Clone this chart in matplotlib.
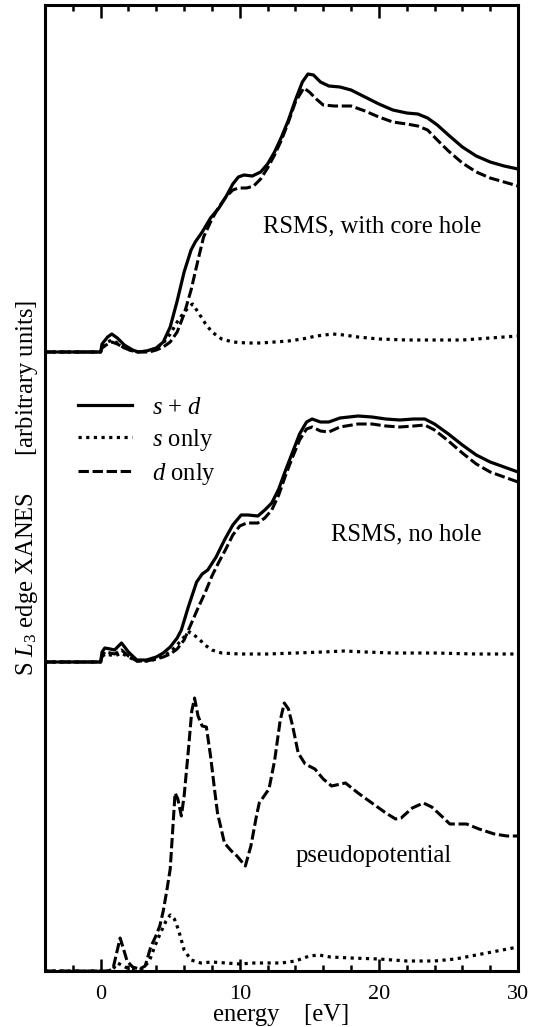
import matplotlib
matplotlib.use("Agg")
import matplotlib.pyplot as plt
from matplotlib.ticker import MultipleLocator

plt.rcParams['font.family'] = ['Liberation Serif', 'DejaVu Serif']
plt.rcParams['mathtext.fontset'] = 'custom'
plt.rcParams['mathtext.rm'] = 'Liberation Serif'
plt.rcParams['mathtext.it'] = 'Liberation Serif:italic'

# ---------------- data ----------------
# vertical offsets of the three groups (arbitrary units)
offset_core = 6.19
offset_nohole = 3.09
offset_pseudo = 0.0

# RSMS, with core hole
e_core_sd = [-4, 0.0, 0.1, 0.5, 0.8, 1.2, 1.7, 2.3, 2.7, 3.3, 4.0, 4.5, 5.0, 5.5, 6.0, 6.5, 6.8,
             7.3, 7.9, 8.5, 9.0, 9.5, 9.9, 10.3, 10.9, 11.5, 12.0, 12.5, 13.0, 13.5, 14.0, 14.5,
             14.9, 15.3, 15.8, 16.4, 17.2, 18.0, 19.0, 20.0, 21.0, 22.0, 22.8, 23.5, 24.2, 25.0,
             26.0, 27.0, 28.0, 29.0, 30.0]
core_sd = [0, 0, 0.08, 0.15, 0.18, 0.14, 0.07, 0.02, 0.0, 0.01, 0.04, 0.10, 0.25, 0.51, 0.80,
           1.02, 1.10, 1.20, 1.34, 1.44, 1.55, 1.68, 1.75, 1.77, 1.76, 1.80, 1.88, 2.00, 2.15,
           2.32, 2.52, 2.70, 2.78, 2.77, 2.70, 2.66, 2.65, 2.62, 2.55, 2.48, 2.42, 2.39, 2.38,
           2.34, 2.27, 2.17, 2.05, 1.96, 1.90, 1.86, 1.83]

e_core_d = [-4, 0.0, 0.1, 0.5, 0.8, 1.2, 1.7, 2.3, 2.7, 3.5, 4.0, 4.5, 5.0, 5.5, 6.0, 6.5, 7.0,
            7.4, 8.0, 8.5, 9.0, 9.5, 9.9, 10.5, 11.0, 11.5, 12.0, 12.5, 13.0, 13.5, 14.0, 14.6,
            15.0, 15.5, 16.0, 16.8, 18.0, 19.0, 20.0, 21.0, 22.0, 22.8, 23.5, 24.2, 25.0, 26.0,
            27.0, 28.0, 29.0, 30.0]
core_d = [0, 0, 0.04, 0.08, 0.10, 0.08, 0.04, 0.01, 0.0, 0.0, 0.02, 0.05, 0.10, 0.20, 0.38,
          0.62, 0.92, 1.15, 1.33, 1.45, 1.55, 1.62, 1.64, 1.64, 1.66, 1.73, 1.84, 1.97, 2.12,
          2.30, 2.50, 2.64, 2.60, 2.53, 2.47, 2.46, 2.46, 2.41, 2.35, 2.30, 2.28, 2.26, 2.22,
          2.12, 2.01, 1.89, 1.80, 1.74, 1.70, 1.66]

e_core_s = [-4, 0.0, 0.1, 0.5, 0.8, 1.2, 1.7, 2.3, 2.8, 3.5, 4.0, 4.5, 5.0, 5.5, 6.0, 6.6, 7.0,
            7.5, 8.0, 8.7, 9.5, 10.5, 11.5, 12.5, 13.5, 14.5, 15.5, 16.7, 17.5, 18.5, 20.0, 22.0,
            24.0, 26.0, 28.0, 30.0]
core_s = [0, 0, 0.05, 0.10, 0.12, 0.09, 0.04, 0.01, 0.0, 0.01, 0.04, 0.09, 0.18, 0.30, 0.40,
          0.48, 0.40, 0.29, 0.20, 0.13, 0.10, 0.09, 0.09, 0.10, 0.11, 0.13, 0.16, 0.18, 0.17,
          0.15, 0.13, 0.12, 0.12, 0.12, 0.14, 0.16]

# RSMS, no hole
e_nh_sd = [-4, 0.0, 0.1, 0.3, 0.7, 1.0, 1.5, 2.0, 2.6, 3.3, 4.0, 4.5, 5.0, 5.5, 5.8, 6.3, 6.9,
           7.3, 7.7, 8.3, 8.9, 9.5, 10.1, 10.6, 11.3, 11.8, 12.3, 12.8, 13.3, 13.8, 14.3, 14.8,
           15.2, 15.8, 16.4, 17.2, 18.5, 19.5, 20.5, 21.5, 22.5, 23.3, 24.0, 25.0, 26.0, 27.0,
           28.0, 29.0, 30.0]
nh_sd = [0, 0, 0.10, 0.14, 0.13, 0.12, 0.19, 0.10, 0.02, 0.02, 0.05, 0.09, 0.15, 0.24, 0.32,
         0.55, 0.80, 0.88, 0.92, 1.05, 1.22, 1.37, 1.47, 1.47, 1.46, 1.52, 1.59, 1.73, 1.92,
         2.10, 2.28, 2.40, 2.43, 2.40, 2.40, 2.44, 2.46, 2.45, 2.43, 2.42, 2.43, 2.43, 2.38,
         2.28, 2.17, 2.07, 2.00, 1.95, 1.90]

e_nh_d = [-4, 0.0, 0.1, 0.3, 0.7, 1.0, 1.5, 2.0, 2.6, 3.3, 4.0, 4.5, 5.0, 5.5, 6.0, 6.5, 7.0,
          7.5, 8.0, 8.5, 9.0, 9.5, 10.0, 10.5, 11.3, 11.8, 12.3, 12.8, 13.3, 13.8, 14.3, 14.8,
          15.2, 15.8, 16.4, 17.2, 18.5, 19.5, 20.5, 21.5, 22.5, 23.3, 24.0, 25.0, 26.0, 27.0,
          28.0, 29.0, 30.0]
nh_d = [0, 0, 0.06, 0.10, 0.09, 0.08, 0.12, 0.06, 0.01, 0.01, 0.03, 0.05, 0.08, 0.13, 0.22,
        0.38, 0.54, 0.69, 0.86, 1.00, 1.13, 1.27, 1.36, 1.39, 1.39, 1.44, 1.52, 1.67, 1.87,
        2.05, 2.22, 2.33, 2.35, 2.31, 2.30, 2.35, 2.38, 2.38, 2.36, 2.35, 2.36, 2.37, 2.32,
        2.21, 2.09, 1.98, 1.90, 1.85, 1.80]

e_nh_s = [-4, 0.0, 0.1, 0.3, 0.7, 1.0, 1.5, 2.0, 2.6, 3.5, 4.0, 4.5, 5.0, 5.5, 6.0, 6.4, 7.0,
          7.5, 8.0, 8.7, 10.0, 12.0, 14.0, 16.0, 17.5, 19.0, 21.0, 24.0, 27.0, 30.0]
nh_s = [0, 0, 0.05, 0.08, 0.07, 0.06, 0.09, 0.05, 0.01, 0.01, 0.03, 0.06, 0.10, 0.17, 0.25,
        0.30, 0.24, 0.17, 0.12, 0.09, 0.08, 0.08, 0.09, 0.10, 0.11, 0.10, 0.09, 0.09, 0.08, 0.08]

# pseudopotential
e_ps_d = [-4, 0.6, 0.9, 1.1, 1.4, 1.6, 1.9, 2.3, 2.8, 3.2, 3.6, 4.0, 4.25, 4.5, 4.75, 5.0,
          5.35, 5.55, 5.8, 6.0, 6.3, 6.55, 6.75, 7.0, 7.3, 7.6, 7.9, 8.2, 8.4, 8.9, 9.4, 9.8,
          10.4, 10.8, 11.2, 11.4, 12.1, 12.5, 12.9, 13.2, 13.5, 13.8, 14.2, 14.7, 15.4, 16.0,
          16.6, 17.6, 18.5, 19.5, 20.5, 21.2, 21.6, 22.4, 23.2, 23.8, 24.5, 25.1, 26.3, 27.2,
          28.3, 29.2, 30.0]
ps_d = [0, 0, 0.03, 0.15, 0.33, 0.24, 0.10, 0.04, 0.02, 0.05, 0.24, 0.36, 0.45, 0.60, 0.80,
        1.02, 1.78, 1.72, 1.55, 1.75, 2.20, 2.60, 2.73, 2.55, 2.45, 2.44, 2.15, 1.80, 1.58,
        1.28, 1.20, 1.15, 1.05, 1.25, 1.55, 1.68, 1.82, 2.10, 2.50, 2.68, 2.62, 2.45, 2.18,
        2.07, 2.02, 1.92, 1.85, 1.88, 1.78, 1.68, 1.58, 1.52, 1.53, 1.63, 1.68, 1.64, 1.55,
        1.47, 1.47, 1.42, 1.37, 1.35, 1.35]

e_ps_s = [-4, 0.6, 0.9, 1.2, 1.5, 1.9, 2.5, 3.0, 3.5, 3.9, 4.3, 4.7, 5.0, 5.3, 5.6, 6.0, 6.5,
          7.2, 8.0, 9.0, 10.0, 11.0, 12.0, 13.0, 14.0, 15.0, 15.7, 16.5, 18.0, 20.0, 22.0,
          24.0, 25.5, 27.0, 28.5, 30.0]
ps_s = [0, 0, 0.02, 0.08, 0.06, 0.03, 0.01, 0.02, 0.10, 0.25, 0.38, 0.50, 0.56, 0.52, 0.41,
        0.21, 0.11, 0.08, 0.09, 0.08, 0.07, 0.08, 0.08, 0.08, 0.10, 0.15, 0.16, 0.14, 0.13,
        0.12, 0.10, 0.10, 0.12, 0.16, 0.20, 0.24]

legend_labels = [r'$s$ + $d$', r'$s$ only', r'$d$ only']
panel_labels = ['RSMS, with core hole', 'RSMS, no hole', 'pseudopotential']
x_ticks = [0, 10, 20, 30]

# ---------------- figure ----------------
fig = plt.figure(figsize=(5.34, 10.27), dpi=100)
ax = fig.add_axes([45 / 534, 1 - 971 / 1027, 473 / 534, 966 / 1027])

solid = dict(color='black', lw=2.3, linestyle='-', solid_joinstyle='round')
dotted = dict(color='black', lw=2.3, linestyle=(0, (1.0, 1.4)))
dashed = dict(color='black', lw=2.2, linestyle=(0, (3.4, 1.2)))


def shift(vals, off):
    return [v + off for v in vals]


h_sd, = ax.plot(e_core_sd, shift(core_sd, offset_core), **solid)
h_s, = ax.plot(e_core_s, shift(core_s, offset_core), **dotted)
h_d, = ax.plot(e_core_d, shift(core_d, offset_core), **dashed)

ax.plot(e_nh_sd, shift(nh_sd, offset_nohole), **solid)
ax.plot(e_nh_s, shift(nh_s, offset_nohole), **dotted)
ax.plot(e_nh_d, shift(nh_d, offset_nohole), **dashed)

ax.plot(e_ps_s, shift(ps_s, offset_pseudo), **dotted)
ax.plot(e_ps_d, shift(ps_d, offset_pseudo), **dashed)

ax.set_xlim(-4, 30)
ax.set_ylim(0, 9.66)

fs = 17.7
ax.text(19.5, 7.39, panel_labels[0], ha='center', va='baseline', fontsize=fs)
ax.text(22.0, 4.31, panel_labels[1], ha='center', va='baseline', fontsize=fs)
ax.text(19.6, 1.09, panel_labels[2], ha='center', va='baseline', fontsize=fs)

leg = ax.legend([h_sd, h_s, h_d], legend_labels, loc='center left',
                bbox_to_anchor=(0.07, 0.548), frameon=False, fontsize=fs,
                handlelength=2.2, handletextpad=0.8, labelspacing=0.33,
                borderpad=0, borderaxespad=0)

# axes styling
for sp in ax.spines.values():
    sp.set_linewidth(2.2)
ax.set_xticks(x_ticks)
ax.xaxis.set_minor_locator(MultipleLocator(2))
ax.tick_params(axis='x', which='major', direction='in', length=9, width=1.8,
               top=True, bottom=True, labelsize=16, pad=10)
ax.tick_params(axis='x', which='minor', direction='in', length=4.5, width=1.8,
               top=True, bottom=True)
ax.tick_params(axis='y', which='both', left=False, right=False, labelleft=False)

ax.set_xlabel('energy    [eV]', fontsize=fs, labelpad=0)
ax.set_ylabel(r'S $L_3$ edge XANES      [arbitrary units]', fontsize=fs)
ax.yaxis.set_label_coords(-0.01, 0.5)

fig.savefig('out.png', dpi=100)
